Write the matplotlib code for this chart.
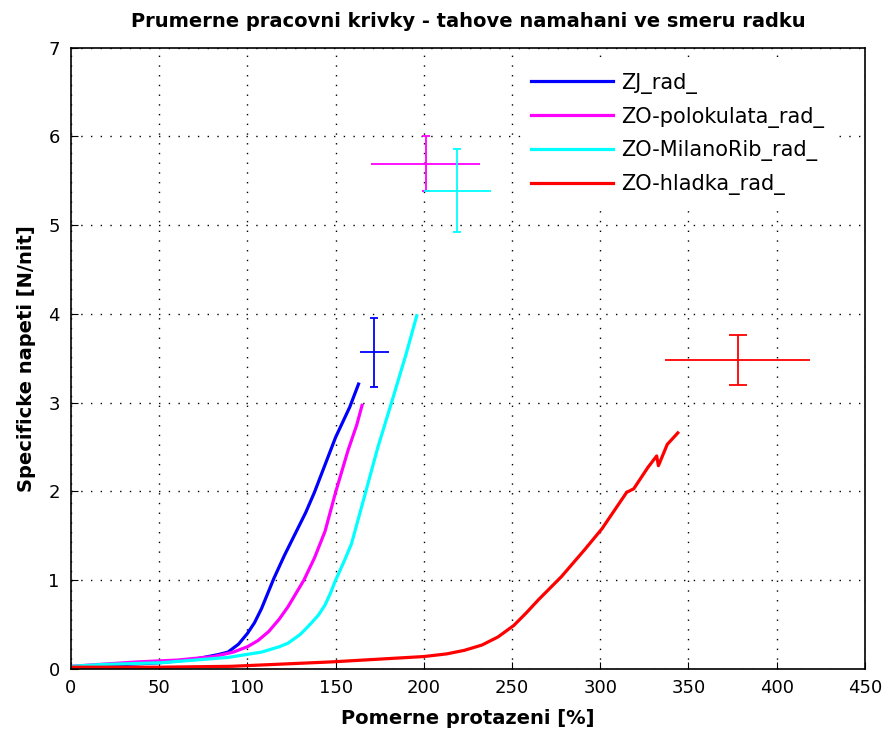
import numpy as np
import matplotlib.pyplot as plt

plt.rcParams['font.family'] = ['DejaVu Sans']

# average curves (strain %, specific stress N/nit)
zj_x = [0, 20, 50, 70, 83, 89, 95, 100, 104, 108, 115, 121, 127, 133, 138, 144, 150, 158, 163]
zj_y = [0.02, 0.04, 0.07, 0.11, 0.16, 0.19, 0.28, 0.40, 0.52, 0.68, 1.02, 1.28, 1.52, 1.76, 1.99, 2.30, 2.61, 2.95, 3.21]

polo_x = [0, 15, 38, 60, 81, 92, 100, 106, 112, 118, 123, 132, 138, 144, 150, 157, 162, 165]
polo_y = [0.03, 0.05, 0.08, 0.10, 0.14, 0.19, 0.25, 0.32, 0.42, 0.56, 0.70, 1.00, 1.25, 1.55, 1.99, 2.46, 2.75, 2.97]

milano_x = [0, 17, 51, 89, 108, 118, 123, 130, 134, 140, 144, 147, 150, 155, 159, 167, 174, 182, 190, 196]
milano_y = [0.03, 0.05, 0.07, 0.13, 0.19, 0.25, 0.29, 0.39, 0.47, 0.60, 0.72, 0.85, 1.00, 1.22, 1.41, 1.99, 2.50, 3.02, 3.55, 3.98]

hladka_x = [0, 50, 91, 148, 200, 213, 223, 233, 242, 251, 258, 265, 278, 291, 301, 315, 319, 327, 332, 333, 338, 344]
hladka_y = [0.02, 0.02, 0.03, 0.08, 0.14, 0.17, 0.21, 0.27, 0.36, 0.49, 0.63, 0.78, 1.04, 1.34, 1.58, 1.99, 2.03, 2.27, 2.40, 2.29, 2.53, 2.66]

# mean breaking point with deviations
names = ['ZJ_rad_', 'ZO-polokulata_rad_', 'ZO-MilanoRib_rad_', 'ZO-hladka_rad_']
colors = ['#0000ff', '#ff00ff', '#00ffff', '#ff0000']
mean_x = [172, 201, 219, 378]
mean_y = [3.57, 5.69, 5.39, 3.48]
err_x = [8, 31, 19, 41]
err_y = [0.39, 0.31, 0.47, 0.28]
cap_sizes = [2.6, 3.2, 3.2, 6.5]

fig = plt.figure(figsize=(8.85, 7.37), dpi=100)
ax = fig.add_axes([0.0802, 0.0923, 0.897, 0.843])

curves = [(zj_x, zj_y), (polo_x, polo_y), (milano_x, milano_y), (hladka_x, hladka_y)]
for (cx, cy), c, n in zip(curves, colors, names):
    ax.plot(cx, cy, color=c, lw=2.3, label=n)

for i in range(4):
    ax.errorbar(mean_x[i], mean_y[i], yerr=err_y[i], color=colors[i], lw=1.3,
                capsize=cap_sizes[i], capthick=1.3)
    ax.errorbar(mean_x[i], mean_y[i], xerr=err_x[i], color=colors[i], lw=1.3, capsize=0)

ax.set_xlim(0, 450)
ax.set_ylim(0, 7)
ax.set_xticks(range(0, 451, 50))
ax.set_yticks(range(0, 8))
ax.grid(True, color='black', linestyle=(0, (1, 6)), lw=1.0)
ax.tick_params(direction='in', length=5, labelsize=13, top=False, right=False)
ax.tick_params(axis='x', pad=7)
ax.tick_params(axis='y', pad=8)
for s in ax.spines.values():
    s.set_linewidth(1.2)

ax.set_title('Prumerne pracovni krivky - tahove namahani ve smeru radku', fontsize=14, fontweight='bold', pad=15)
ax.set_xlabel('Pomerne protazeni [%]', fontsize=14, fontweight='bold', labelpad=9)
ax.set_ylabel('Specificke napeti [N/nit]', fontsize=14, fontweight='bold', labelpad=9)

leg = ax.legend(loc='upper right', bbox_to_anchor=(0.972, 0.99), fontsize=15, frameon=True,
                fancybox=False, edgecolor='white', framealpha=1, handlelength=3.9,
                handletextpad=0.4, borderaxespad=0.5, labelspacing=0.62)

fig.savefig('out.png')
